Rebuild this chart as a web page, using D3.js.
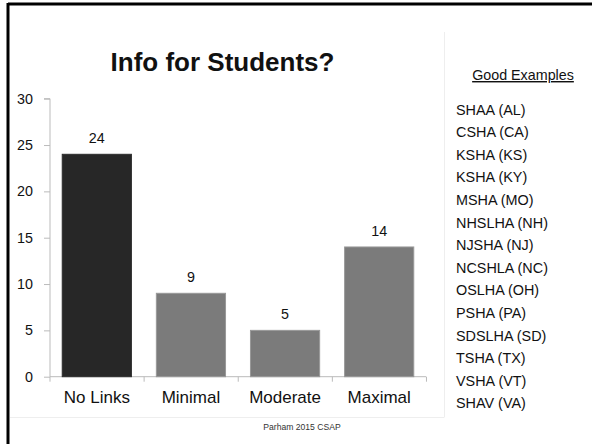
<!DOCTYPE html>
<html><head><meta charset="utf-8">
<script src="https://cdn.jsdelivr.net/npm/d3@7"></script>
<style>body{margin:0;background:#fff}svg{display:block}text{font-family:"Liberation Sans",Arial,sans-serif}</style>
</head><body><svg id="c" width="592" height="444"></svg>
<script>
const categories = ["No Links","Minimal","Moderate","Maximal"];
const values = [24,9,5,14];
const yTicks = [0,5,10,15,20,25,30];
const examples = ["SHAA (AL)","CSHA (CA)","KSHA (KS)","KSHA (KY)","MSHA (MO)","NHSLHA (NH)","NJSHA (NJ)","NCSHLA (NC)","OSLHA (OH)","PSHA (PA)","SDSLHA (SD)","TSHA (TX)","VSHA (VT)","SHAV (VA)"];
const titleText = "Info for Students?";
const listTitle = "Good Examples";
const footer = "Parham 2015 CSAP";

const svg = d3.select("#c");
// slide border
svg.append("line").attr("x1",8).attr("x2",592).attr("y1",4).attr("y2",4).attr("stroke","#000").attr("stroke-width",3);
svg.append("line").attr("x1",8).attr("x2",8).attr("y1",3).attr("y2",444).attr("stroke","#000").attr("stroke-width",3);
// chart frame edges
svg.append("line").attr("x1",444.5).attr("x2",444.5).attr("y1",32).attr("y2",417).attr("stroke","#eee");
svg.append("line").attr("x1",10).attr("x2",444.5).attr("y1",417.5).attr("y2",417.5).attr("stroke","#eee");

const x = d3.scaleBand().domain(categories).range([50,426]).paddingInner(0.265).paddingOuter(0.13);
const y = d3.scaleLinear().domain([0,30]).range([376.7,98.7]);

// y axis
const ya = svg.append("g").attr("transform","translate(50,0)")
  .call(d3.axisLeft(y).tickValues(yTicks).tickSize(6).tickPadding(11));
ya.select(".domain").attr("stroke","#bbb").attr("d","M-6,"+y(30)+"H0V"+y(0));
ya.selectAll(".tick line").attr("stroke","#bbb");
ya.selectAll(".tick text").attr("font-size",14.3).attr("fill","#111").attr("font-family","Liberation Sans, Arial, sans-serif");

// x axis
const xa = svg.append("g").attr("transform","translate(0,"+y(0)+")")
  .call(d3.axisBottom(x).tickSize(0).tickPadding(14));
xa.select(".domain").attr("stroke","#bbb").attr("d","M50,0H426");
xa.selectAll(".tick text").attr("font-size",17).attr("fill","#111").attr("font-family","Liberation Sans, Arial, sans-serif");
// category boundary ticks
const step = x.step();
svg.append("g").selectAll("line").data(d3.range(categories.length+1)).join("line")
  .attr("x1",d=>50+d*step).attr("x2",d=>50+d*step).attr("y1",y(0)).attr("y2",y(0)+5).attr("stroke","#bbb");

// bars
svg.append("g").selectAll("rect").data(values).join("rect")
  .attr("x",(d,i)=>x(categories[i])).attr("width",x.bandwidth())
  .attr("y",d=>y(d)).attr("height",d=>y(0)-y(d))
  .attr("fill",(d,i)=>i===0?"#272727":"#7b7b7b")
  .attr("stroke",(d,i)=>i===0?"#2e2e2e":"#999").attr("stroke-width",1);

// value labels
svg.append("g").selectAll("text").data(values).join("text")
  .attr("x",(d,i)=>x(categories[i])+x.bandwidth()/2).attr("y",d=>y(d)-11)
  .attr("text-anchor","middle").attr("font-size",14.3).attr("fill","#111").text(d=>d);

// title
svg.append("text").attr("x",222.5).attr("y",71).attr("text-anchor","middle")
  .attr("font-size",26).attr("font-weight","bold").attr("fill","#111").text(titleText);

// list
svg.append("text").attr("x",523).attr("y",80).attr("text-anchor","middle").attr("font-size",14.3)
  .attr("fill","#111").attr("text-decoration","underline").text(listTitle);
svg.append("g").selectAll("text").data(examples).join("text")
  .attr("x",456).attr("y",(d,i)=>114.5+i*22.6).attr("font-size",14.4).attr("fill","#111").text(d=>d);

// footer
svg.append("text").attr("x",302).attr("y",430).attr("text-anchor","middle").attr("font-size",8.6)
  .attr("font-family","Lato, 'Open Sans', sans-serif").attr("fill","#333").text(footer);
</script></body></html>
